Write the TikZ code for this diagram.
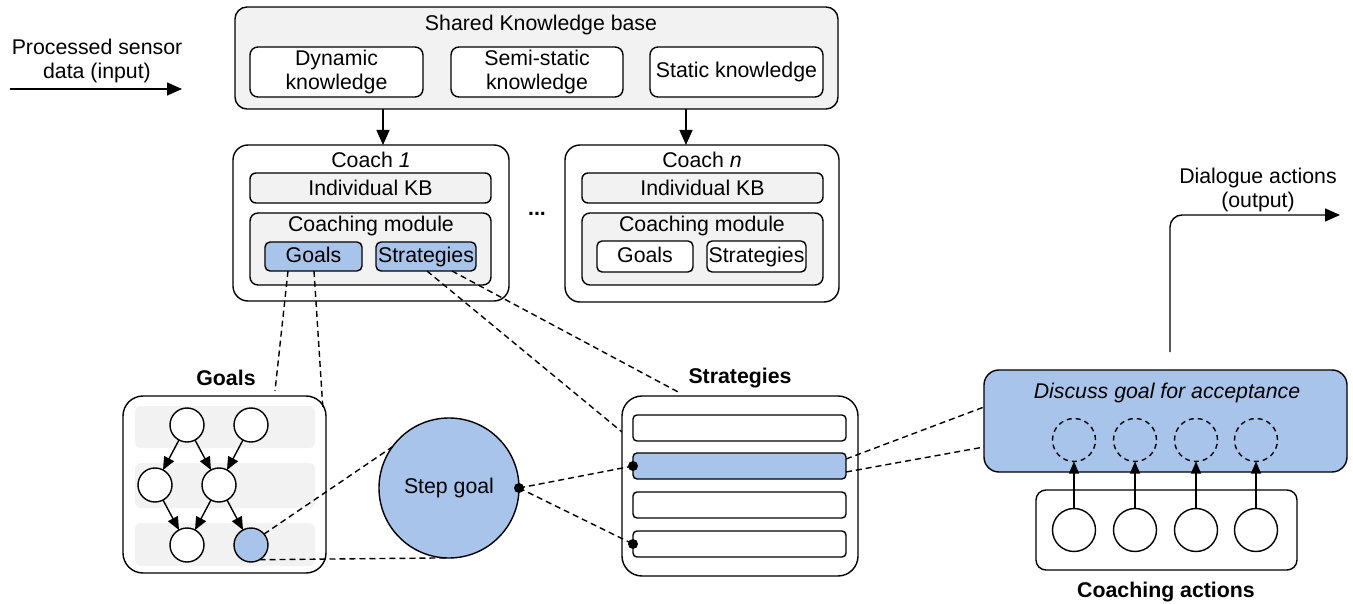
\documentclass[tikz,border=0pt]{standalone}
\usepackage{fontspec}
\setmainfont{Liberation Sans}
\usetikzlibrary{arrows.meta}
\definecolor{bl}{HTML}{A9C4EB}
\definecolor{gr}{HTML}{F2F2F2}
\newcommand\rbox[7]{\node[#6, minimum width={#4-#2}, minimum height={#5-#3}] (#1) at ({(#2+#4)/2},{(#3+#5)/2}) {#7};}
\begin{document}
\begin{tikzpicture}[x=1pt,y=-1pt, line width=1.4pt,
  every node/.style={font=\fontsize{21.3}{24}\selectfont},
  box/.style={draw, inner sep=0pt, outer sep=0pt, align=center},
  arr/.style={-{Triangle[length=15pt,width=13pt]}},
  garr/.style={-{Triangle[length=13pt,width=11pt]}},
  dsh/.style={dashed, dash pattern=on 6pt off 4pt},
  circ/.style={draw, circle, minimum size=34pt, inner sep=0pt, outer sep=0pt, fill=white},
  acirc/.style={draw, circle, minimum size=43pt, inner sep=0pt, outer sep=0pt},
  lbl/.style={font=\fontsize{21.3}{24}\selectfont\bfseries},
  dot/.style={fill, circle, minimum size=10pt, inner sep=0pt}]
\useasboundingbox (0,0) rectangle (1353,604);

% input
\node[align=center] (inp) at (97,61) {Processed sensor\\data (input)};
\coordinate (inA) at (10,89);
\coordinate (inB) at (182,89);
\draw[arr] (inA) -- (inB);

% shared KB
\rbox{skb}{235}{7}{838}{109}{box, fill=gr, rounded corners=12pt}{}
\node (skbt) at (541,25) {Shared Knowledge base};
\rbox{dyn}{250}{47}{423}{97}{box, fill=white, rounded corners=8pt}{Dynamic\\knowledge}
\rbox{semi}{451}{47}{623}{97}{box, fill=white, rounded corners=8pt}{Semi-static\\knowledge}
\rbox{stat}{650}{47}{823}{97}{box, fill=white, rounded corners=8pt}{Static knowledge}

% coach 1
\rbox{c1}{233}{145}{509}{301}{box, fill=white, rounded corners=15pt}{}
\node (c1t) at (371,160) {Coach \textit{1}};
\rbox{ikb1}{250}{173}{491}{203}{box, fill=gr, rounded corners=6pt}{Individual KB}
\rbox{cm1}{250}{213}{491}{285}{box, fill=gr, rounded corners=8pt}{}
\node (cm1t) at (371,226) {Coaching module};
\rbox{g1}{265}{242}{362}{271}{box, fill=bl, rounded corners=5pt}{Goals\vphantom{g}}
\rbox{s1}{376}{242}{476}{271}{box, fill=bl, rounded corners=5pt}{Strategies}

% coach n
\rbox{cn}{565}{145}{839}{302}{box, fill=white, rounded corners=15pt}{}
\node (cnt) at (702,160) {Coach \textit{n}};
\rbox{ikbn}{582}{173}{823}{203}{box, fill=gr, rounded corners=6pt}{Individual KB}
\rbox{cmn}{582}{213}{823}{285}{box, fill=gr, rounded corners=8pt}{}
\node (cmnt) at (702,226) {Coaching module};
\rbox{gn}{597}{241}{693}{272}{box, fill=white, rounded corners=5pt}{Goals\vphantom{g}}
\rbox{sn}{707}{241}{806}{272}{box, fill=white, rounded corners=5pt}{Strategies}
\node[lbl] (dots) at (537,214) {...};

\coordinate (a1) at (383,145);
\coordinate (an) at (686,145);
\draw[arr] (a1 |- skb.south) -- (a1);
\draw[arr] (an |- skb.south) -- (an);

% goals detail
\node[lbl] (goalslbl) at (226,378) {Goals};
\rbox{gbox}{123}{396}{326}{573}{box, fill=white, rounded corners=20pt}{}
\rbox{band1}{135}{406}{315}{448}{fill=gr, inner sep=0pt, rounded corners=6pt}{}
\rbox{band2}{135}{463}{315}{508}{fill=gr, inner sep=0pt, rounded corners=6pt}{}
\rbox{band3}{135}{523}{315}{566}{fill=gr, inner sep=0pt, rounded corners=6pt}{}
\node[circ] (t1) at (187,425) {};
\node[circ] (t2) at (251,425) {};
\node[circ] (m1) at (155,485) {};
\node[circ] (m2) at (219,485) {};
\node[circ] (b1) at (187,545) {};
\node[circ, fill=bl] (b2) at (251,545) {};
\draw[garr] (t1) -- (m1);
\draw[garr] (t1) -- (m2);
\draw[garr] (t2) -- (m2);
\draw[garr] (m1) -- (b1);
\draw[garr] (m2) -- (b1);
\draw[garr] (m2) -- (b2);

% step goal
\node[draw, circle, fill=bl, minimum size=140pt, inner sep=0pt, outer sep=0pt] (sg) at (449,488) {Step goal};
\draw[dsh] (b2.40) -- (sg.144);
\draw[dsh] (b2.-60) -- (sg.-93);

% strategies detail
\node[lbl] (stratlbl) at (740,378) {Strategies};
\rbox{sbox}{622}{396}{858}{576}{box, fill=white, rounded corners=20pt}{}
\rbox{r1}{633}{415}{846}{441}{box, fill=white, rounded corners=4pt}{}
\rbox{r2}{633}{453}{846}{479}{box, fill=bl, rounded corners=4pt}{}
\rbox{r3}{633}{492}{846}{518}{box, fill=white, rounded corners=4pt}{}
\rbox{r4}{633}{531}{846}{557}{box, fill=white, rounded corners=4pt}{}
\node[dot] (d2) at (633,466) {};
\node[dot] (d4) at (633,544) {};
\node[dot] (dsg) at (sg.east) {};
\draw[dsh] (dsg.center) -- (d2.center);
\draw[dsh] (dsg.center) -- (d4.center);

% dashed links from coach 1
\coordinate (ge1) at (275,391);
\coordinate (ge2) at (323,410);
\draw[dsh] ([xshift=-25.5pt]g1.south) -- (ge1);
\draw[dsh] ([xshift=0.5pt]g1.south) -- (ge2);
\coordinate (se1) at (622,432);
\coordinate (se2) at (680,393);
\draw[dsh] ([xshift=1pt]s1.south) -- (se1);
\draw[dsh] ([xshift=26pt]s1.south) -- (se2);

% discuss box
\rbox{disc}{984}{370}{1347}{472}{box, fill=bl, rounded corners=15pt}{}
\node (disct) at (1167,393) {\textit{Discuss goal for acceptance}};
\rbox{cab}{1036}{490}{1297}{570}{box, fill=white, rounded corners=10pt}{}
\node[lbl] (cablbl) at (1166,592) {Coaching actions};
\foreach \i/\x in {1/1074,2/1135,3/1196,4/1256}{
  \node[acirc, dash pattern=on 5pt off 4pt] (dc\i) at (\x,440) {};
  \node[acirc, fill=white] (ac\i) at (\x,530) {};
  \draw[-{Triangle[length=12pt,width=10pt]}] (ac\i) -- (dc\i);
}
\coordinate (sl1) at (846,459);
\coordinate (sl2) at (846,472);
\draw[dsh] (sl1) -- (disc.west |- 0,407);
\draw[dsh] (sl2) -- (disc.west |- 0,447);

% output
\node[align=center] (outt) at (1258,190) {Dialogue actions\\(output)};
\coordinate (o0) at (1170,352);
\coordinate (o1) at (1170,215);
\coordinate (o2) at (1340,215);
\draw[arr, rounded corners=12pt] (o0) -- (o1) -- (o2);
\end{tikzpicture}
\end{document}
